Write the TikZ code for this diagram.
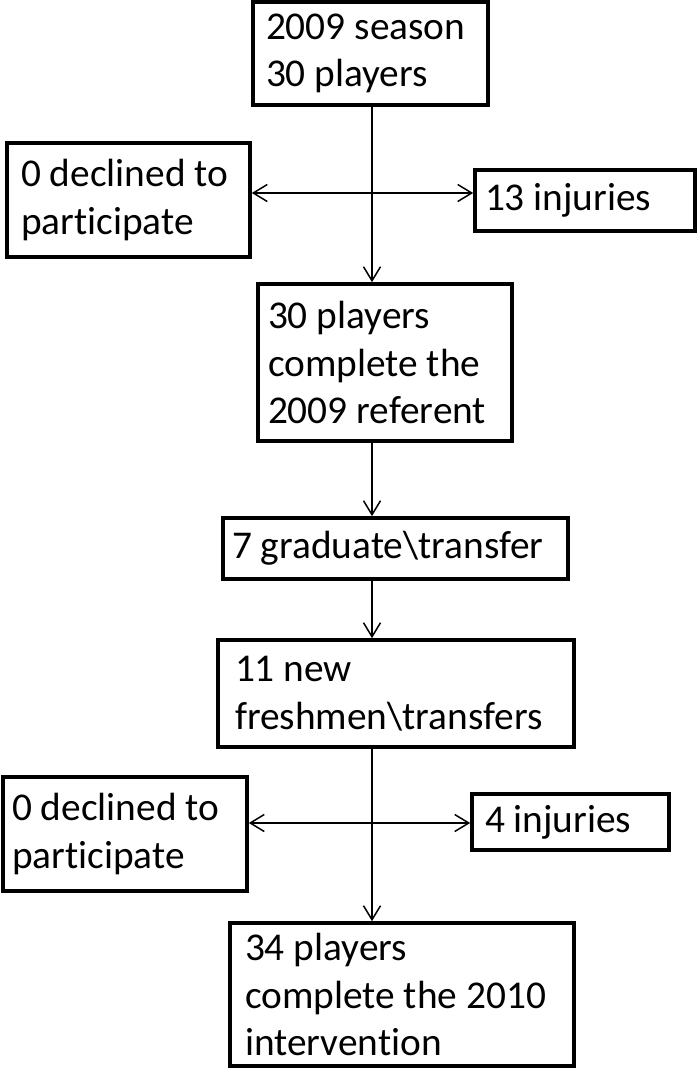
\documentclass[tikz,border=0pt]{standalone}
\usepackage{fontspec}
\setmainfont{Carlito}[Ligatures=NoCommon]
\usetikzlibrary{arrows.meta}

\tikzset{
  box/.style={draw, line width=2.1pt, align=flush left, inner ysep=0pt,
    font=\fontsize{22.4}{27}\selectfont},
  link/.style={line width=0.85pt, -{Straight Barb[length=0.28cm, width=0.34cm]}}
}

\begin{document}
\begin{tikzpicture}[x=0.02cm, y=-0.02cm]
\useasboundingbox (0,0) rectangle (697,1068);

% Boxes
\node[box, minimum height=2.06cm, text width=4.18cm, inner xsep=0.26cm] (season) at (370.5,53.5) {2009 season\\30 players};
\node[box, minimum height=2.28cm, text width=4.30cm, inner xsep=0.28cm] (declA) at (128.5,200) {0 declined to\\participate};
\node[box, minimum height=1.22cm, text width=4.00cm, inner xsep=0.20cm] (injA) at (585,200.5) {13 injuries};
\node[box, minimum height=3.14cm, text width=4.68cm, inner xsep=0.20cm] (referent) at (385,362.5) {30 players\\complete the\\2009 referent};
\node[box, minimum height=1.22cm, text width=6.54cm, inner xsep=0.18cm] (grad) at (395.5,548.5) {7 graduate\textbackslash transfer};
\node[box, minimum height=2.14cm, text width=6.44cm, inner xsep=0.34cm] (fresh) at (396,693.5) {11 new\\freshmen\textbackslash transfers};
\node[box, minimum height=2.28cm, text width=4.52cm, inner xsep=0.18cm] (declB) at (125,834) {0 declined to\\participate};
\node[box, minimum height=1.12cm, text width=3.42cm, inner xsep=0.26cm] (injB) at (570.5,822) {4 injuries};
\node[box, minimum height=2.86cm, text width=6.28cm, inner xsep=0.30cm] (final) at (402,994.5) {34 players\\complete the 2010\\intervention};

% Main line
\coordinate (spine) at (372,0);
\coordinate (splitA) at (372,193);
\coordinate (splitB) at (372,823);
\draw[link] (season.south -| spine) -- (referent.north -| spine);
\draw[link] (referent.south -| spine) -- (grad.north -| spine);
\draw[link] (grad.south -| spine) -- (fresh.north -| spine);
\draw[link] (fresh.south -| spine) -- (final.north -| spine);

% Side arrows
\draw[link] (splitA) -- (splitA -| declA.east);
\draw[link] (splitA) -- (splitA -| injA.west);
\draw[link] (splitB) -- (splitB -| declB.east);
\draw[link] (splitB) -- (splitB -| injB.west);
\end{tikzpicture}
\end{document}
